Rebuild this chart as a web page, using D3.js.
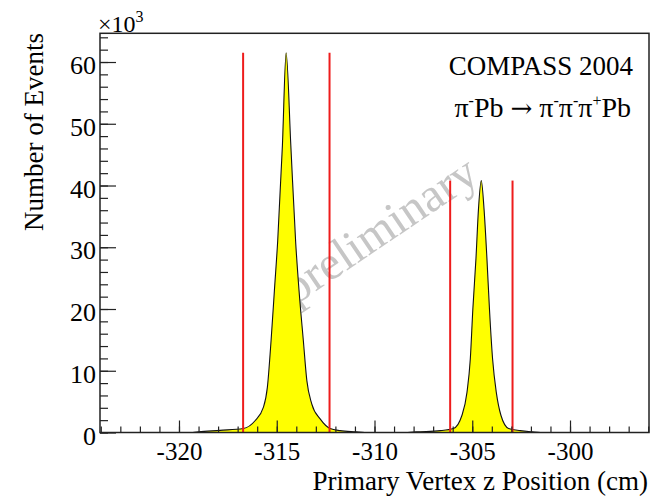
<!DOCTYPE html>
<html><head><meta charset="utf-8">
<script src="https://cdn.jsdelivr.net/npm/d3@7"></script>
<style>
body{margin:0;background:#fff}
svg text{font-family:"Liberation Serif","Times New Roman",serif;fill:#000}
</style>
</head><body>
<svg id="chart" width="664" height="500"></svg>
<script>
// Histogram outline: vertex z position (cm) and number of events
const zPos = [-324.0,-319.3,-319.0,-317.9,-316.71,-316.11,-315.68,-315.48,-315.29,-315.12,-314.95,-314.71,-314.52,
  -314.28,-314.03,-313.86,-313.64,-313.46,-313.21,-312.78,-312.27,-311.76,-310.94,-310.5,
  -308.3,-307.87,-306.64,-305.96,-305.53,-305.27,-305.10,-304.97,-304.81,-304.68,-304.54,
  -304.40,-304.25,-304.12,-303.96,-303.77,-303.53,-303.14,-302.55,-301.93,-301.5,-296.0];
const counts = [0,0,100,350,650,1900,4100,7300,14900,23000,31100,46500,61500,
  46500,30700,23000,14900,8400,4650,2200,650,300,100,0,
  0,100,300,650,2750,6500,11900,20000,28200,36300,40800,
  36300,28200,20000,11900,6500,2750,650,300,100,0,0];
// Target cut lines
const cutZ = [-316.72,-312.3,-306.13,-302.94];
const cutTop = [61500,61500,40800,40800];
// Axes
const xDomain = [-324.04,-295.96];
const yDomain = [0,64650];
const xMajorTicks = [-320,-315,-310,-305,-300];
const xMinorTicks = d3.range(-324,-295,1);
const yMajorTicks = [0,10000,20000,30000,40000,50000,60000];
const yMinorTicks = d3.range(0,64001,2000);
const xTitle = "Primary Vertex z Position (cm)";
const yTitle = "Number of Events";

const svg = d3.select("#chart");
const L = 100, R = 649, T = 33.3, B = 432.5;
const x = d3.scaleLinear().domain(xDomain).range([L,R]);
const y = d3.scaleLinear().domain(yDomain).range([B,T]);

// watermark
svg.append("text")
  .attr("transform","translate(379,229) rotate(-34)")
  .attr("text-anchor","middle")
  .attr("dominant-baseline","central")
  .style("font-size","48px")
  .style("fill","#c6c6c6")
  .text("preliminary");

// histogram area
const pts = zPos.map((z,i)=>[z,counts[i]]);
const area = d3.area().x(d=>x(d[0])).y0(y(0)).y1(d=>y(d[1])).curve(d3.curveMonotoneX);
const line = d3.line().x(d=>x(d[0])).y(d=>y(d[1])).curve(d3.curveMonotoneX);
svg.append("path").datum(pts).attr("d",area).attr("fill","#ffff00");
svg.append("path").datum(pts).attr("d",line).attr("fill","none").attr("stroke","#111").attr("stroke-width",1.1);

// cut lines
svg.selectAll("line.cut").data(cutZ).enter().append("line")
  .attr("class","cut")
  .attr("x1",d=>x(d)).attr("x2",d=>x(d))
  .attr("y1",y(0)).attr("y2",(d,i)=>y(cutTop[i]))
  .attr("stroke","#ee1c1c").attr("stroke-width",2);

// axes
const gx = svg.append("g").attr("transform",`translate(0,${B})`);
gx.call(d3.axisBottom(x).tickValues(xMinorTicks).tickSize(-6).tickFormat(""));
gx.call(g=>g.select(".domain").remove());
const gx2 = svg.append("g").attr("transform",`translate(0,${B})`);
gx2.call(d3.axisBottom(x).tickValues(xMajorTicks).tickSize(-12).tickPadding(14).tickFormat(d=>String(d)));
gx2.select(".domain").remove();
gx2.selectAll("text").style("font-size","25px").attr("dy","0.71em").attr("y",10);

const gy = svg.append("g").attr("transform",`translate(${L},0)`);
gy.call(d3.axisLeft(y).tickValues(yMinorTicks).tickSize(-8).tickFormat(""));
gy.select(".domain").remove();
const gy2 = svg.append("g").attr("transform",`translate(${L},0)`);
gy2.call(d3.axisLeft(y).tickValues(yMajorTicks).tickSize(-16).tickPadding(4).tickFormat(d=>String(d/1000)));
gy2.select(".domain").remove();
gy2.selectAll("text").style("font-size","26px").attr("dy","0.45em");
svg.selectAll(".tick line").attr("stroke","#222").attr("stroke-width",1.2);

// frame
svg.append("rect").attr("x",L).attr("y",T).attr("width",R-L).attr("height",B-T)
  .attr("fill","none").attr("stroke","#222").attr("stroke-width",1.5);

// exponent
const ex = svg.append("text").attr("x",98).attr("y",31.5).style("font-size","24px");
ex.append("tspan").text("×10");
ex.append("tspan").attr("dy",-10).style("font-size","16px").text("3");

// titles
svg.append("text").attr("x",648).attr("y",490).attr("text-anchor","end").style("font-size","27px").text(xTitle);
svg.append("text").attr("transform","translate(43,33) rotate(-90)").attr("text-anchor","end").style("font-size","27px").text(yTitle);

// labels
svg.append("text").attr("x",633).attr("y",75).attr("text-anchor","end").style("font-size","27px").text("COMPASS 2004");
const r = svg.append("text").attr("x",631).attr("y",117).attr("text-anchor","end").style("font-size","28px");
const sup = t => r.append("tspan").attr("dy",-11).style("font-size","16px").text(t);
const base = t => r.append("tspan").attr("dy",11).text(t);
r.append("tspan").text("π"); sup("-"); base("Pb ");
r.append("tspan").style("font-family","'DejaVu Serif',serif").style("font-size","26px").text("→");
r.append("tspan").text(" π"); sup("-"); base("π"); sup("-"); base("π"); sup("+"); base("Pb");
</script>
</body></html>
